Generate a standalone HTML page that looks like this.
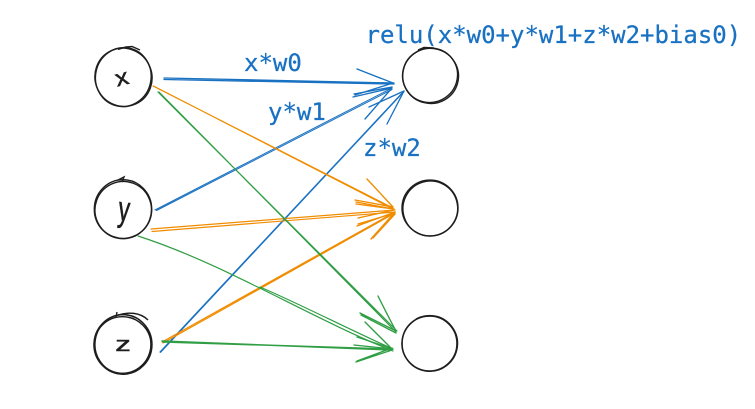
<!DOCTYPE html>
<html><head><meta charset="utf-8"><style>
html,body{margin:0;padding:0;background:#fff;width:755px;height:409px;overflow:hidden}
svg{display:block}
.t{font-family:"DejaVu Sans Mono","Liberation Mono",monospace;font-size:24px;fill:#1971c2;stroke:#1971c2;stroke-width:.25}
.l{font-family:"Liberation Sans",sans-serif;fill:#1e1e1e;stroke:#1e1e1e;stroke-width:.5;text-anchor:middle}
.c{fill:none;stroke:#1e1e1e;stroke-width:1.4}
.b,.o,.g{fill:none;stroke-linecap:round;stroke-width:1.35}
.b{stroke:#1971c2}.o{stroke:#f08c00}.g{stroke:#2f9e44}
</style></head><body>
<svg width="755" height="409" viewBox="0 0 755 409" xmlns="http://www.w3.org/2000/svg">
<g class="c">
<ellipse cx="123.300" cy="77" rx="27.800" ry="29.500" transform="rotate(12 123 77)"/>
<ellipse cx="123.300" cy="77.500" rx="28.400" ry="29.300" transform="rotate(-25 123 77)"/>
<path d="M118 49.500L126 47L132 46.500L140 50"/>
<ellipse cx="123" cy="209.200" rx="28.700" ry="29.500"/>
<ellipse cx="123.500" cy="209.800" rx="28.200" ry="28.500" transform="rotate(20 123 209)"/>
<path d="M118 180L124 177L122 182"/>
<ellipse cx="123" cy="344.500" rx="29" ry="29.800"/>
<ellipse cx="123" cy="344" rx="28" ry="29.400" transform="rotate(10 123 344)"/>
<ellipse cx="122.500" cy="345" rx="28.500" ry="28.300"/>
<path d="M116 317L117 312M118 315C128 312 140 312 148 320"/>
<ellipse cx="430.500" cy="75.800" rx="28" ry="27.500" transform="rotate(15 430 76)"/>
<ellipse cx="430.500" cy="75.500" rx="27.600" ry="27" transform="rotate(-35 430 76)"/>
<path d="M418 50L424 47.500L434 48"/>
<ellipse cx="430" cy="208" rx="28" ry="27.900"/>
<ellipse cx="430.500" cy="208.300" rx="27.300" ry="27.600" transform="rotate(30 430 208)"/>
<ellipse cx="429.800" cy="343.500" rx="27.800" ry="27.800" transform="rotate(8 430 343)"/>
<ellipse cx="429.500" cy="343.500" rx="27.400" ry="27.400"/>
<path d="M416 319C425 315 438 314 446 321"/>
</g>
<text class="l" transform="translate(123.500 85) rotate(-14) scale(1.1 .95)" font-size="24">x</text>
<text class="l" transform="translate(123 221) rotate(6) scale(.9 1.4)" font-size="25">y</text>
<text class="l" transform="translate(123 351) scale(1.35 .9)" font-size="23">z</text>

<text class="t" x="244" y="71">x*w0</text>
<text class="t" x="268" y="120">y*w1</text>
<text class="t" x="363" y="156">z*w2</text>
<text class="t" x="365.500" y="43">relu(x*w0+y*w1+z*w2+bias0)</text>

<g class="b">
<path d="M164 78L394 83M164 79.500L394 84"/>
<path d="M357 69L393 83M355 95L393 83"/>
<path d="M155 210L392 88M156.500 210.500L392 89.500" stroke-width="1"/>
<path d="M353 97L392 88M354 94L392 87M365 119L392 88"/>
<path d="M160 352L404 91M160.500 352.300L404 91.500" stroke-width="1.2"/>
<path d="M369 107L404 91M387 124L404 91"/>
</g>
<g class="o">
<path d="M153 86L393 208M153.500 86L393 209" stroke-width="1.2"/>
<path d="M367 179L393 207M355 200L393 207M356 202L393 209"/>
<path d="M151 229L395 210M152 231.500L395 212" stroke-width="1.2"/>
<path d="M358 218L394 210M356 204L394 209"/>
<path d="M162 342L395 212M163 343L395 213" stroke-width="1.2"/>
<path d="M357 226L395 212M358 224L395 213M371 239L395 212M373 238L395 214"/>
</g>
<g class="g">
<path d="M158 92L397 331M159 92L396 332" stroke-width="1.2"/>
<path d="M378 296C384 308 390 320 396 331M360 313L396 331M361 315L396 333"/>
<path d="M138 236C225 264 310 318 393 351M260 287C300 304 350 330 393 349" stroke-width="1.2"/>
<path d="M357 337L393 349M354 345L393 349"/>
<path d="M162 341L392 350M163 342L392 349" stroke-width="1.5"/>
<path d="M365 322L392 349M356 362L392 350M357 361L392 348"/>
</g>
</svg>
</body></html>
